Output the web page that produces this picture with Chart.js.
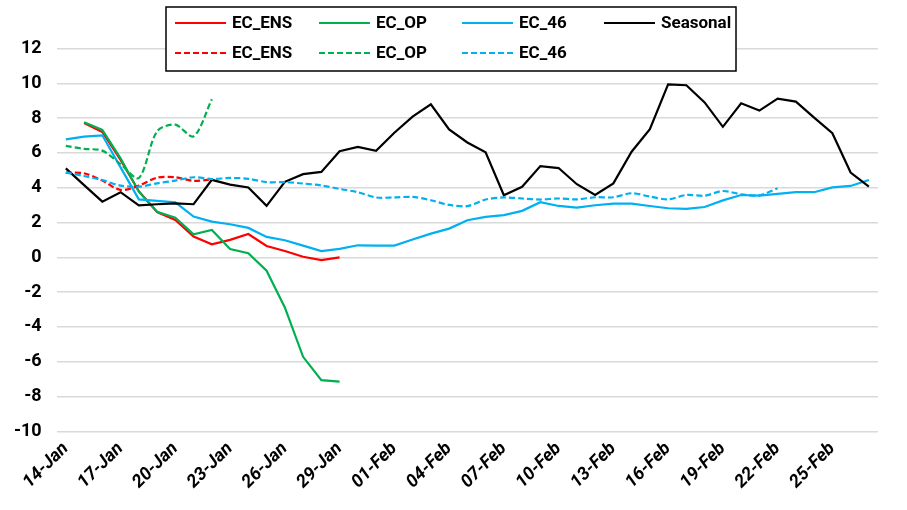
<!DOCTYPE html>
<html>
<head>
<meta charset="utf-8">
<title>EC forecasts vs seasonal</title>
<script src="https://cdn.jsdelivr.net/npm/chart.js@4.4.1/dist/chart.umd.min.js"></script>
<style>
  html, body { margin: 0; padding: 0; background: #fff; }
  #chart { display: block; }
</style>
</head>
<body>
<canvas id="chart" width="907" height="510"></canvas>
<script>
// categories: one per day, 14-Jan .. 27-Feb
const dayLabels = [
  "14-Jan", "15-Jan", "16-Jan", "17-Jan", "18-Jan", "19-Jan", "20-Jan", "21-Jan", "22-Jan",
  "23-Jan", "24-Jan", "25-Jan", "26-Jan", "27-Jan", "28-Jan", "29-Jan", "30-Jan", "31-Jan",
  "01-Feb", "02-Feb", "03-Feb", "04-Feb", "05-Feb", "06-Feb", "07-Feb", "08-Feb", "09-Feb",
  "10-Feb", "11-Feb", "12-Feb", "13-Feb", "14-Feb", "15-Feb", "16-Feb", "17-Feb", "18-Feb",
  "19-Feb", "20-Feb", "21-Feb", "22-Feb", "23-Feb", "24-Feb", "25-Feb", "26-Feb", "27-Feb"
];
// labels shown on the x axis
const tickLabels = [
  "14-Jan", "17-Jan", "20-Jan", "23-Jan", "26-Jan", "29-Jan", "01-Feb", "04-Feb",
  "07-Feb", "10-Feb", "13-Feb", "16-Feb", "19-Feb", "22-Feb", "25-Feb"
];
const yTicks = [-10, -8, -6, -4, -2, 0, 2, 4, 6, 8, 10, 12];

// solid lines
const ecEns = [null, 7.72, 7.2, 5.6, 3.8, 2.6, 2.15, 1.19, 0.75, 1.0, 1.34, 0.65, 0.36, 0.03, -0.16, 0.0];
const ecOp = [null, 7.76, 7.32, 5.69, 3.77, 2.62, 2.28, 1.32, 1.57, 0.48, 0.23, -0.77, -2.88, -5.72, -7.06, -7.14];
const ec46 = [
  6.78, 6.93, 7.01, 5.17, 3.33, 3.24, 3.16, 2.34, 2.05, 1.9, 1.69, 1.17, 0.98, 0.67, 0.36,
  0.48, 0.69, 0.67, 0.67, 1.02, 1.36, 1.65, 2.13, 2.32, 2.42, 2.67, 3.17, 2.95, 2.85, 2.99,
  3.08, 3.08, 2.95, 2.82, 2.78, 2.89, 3.27, 3.58, 3.54, 3.64, 3.74, 3.74, 4.02, 4.1, 4.44
];
const seasonal = [
  5.11, 4.15, 3.2, 3.74, 2.98, 3.05, 3.1, 3.05, 4.45, 4.18, 4.01, 2.96, 4.34, 4.78, 4.91,
  6.1, 6.35, 6.12, 7.16, 8.08, 8.79, 7.35, 6.6, 6.03, 3.57, 4.05, 5.24, 5.13, 4.2, 3.58,
  4.25, 6.07, 7.36, 9.94, 9.89, 8.9, 7.5, 8.85, 8.43, 9.12, 8.95, 8.03, 7.13, 4.87, 4.06
];
// dashed lines (previous run)
const ecEnsPrev = [4.87, 4.83, 4.41, 3.87, 4.12, 4.58, 4.6, 4.39, 4.48];
const ecOpPrev = [6.4, 6.23, 6.13, 5.35, 4.56, 7.24, 7.62, 6.95, 9.08];
const ec46Prev = [
  4.87, 4.67, 4.44, 4.12, 4.06, 4.25, 4.41, 4.6, 4.5, 4.56, 4.51, 4.32, 4.32, 4.24, 4.13,
  3.93, 3.74, 3.44, 3.44, 3.47, 3.28, 3.01, 2.94, 3.32, 3.44, 3.38, 3.32, 3.38, 3.33, 3.45,
  3.45, 3.68, 3.49, 3.33, 3.58, 3.54, 3.81, 3.62, 3.56, 3.97
];

const RED = "#FF0000", GREEN = "#00B050", BLUE = "#00B0F0", BLACK = "#000000";
const FONT = "Roboto";

const series = [
  { label: "EC_ENS", data: ecEns, color: RED, dash: [] },
  { label: "EC_OP", data: ecOp, color: GREEN, dash: [] },
  { label: "EC_46", data: ec46, color: BLUE, dash: [] },
  { label: "Seasonal", data: seasonal, color: BLACK, dash: [] },
  { label: "EC_ENS", data: ecEnsPrev, color: RED, dash: [6, 3] },
  { label: "EC_OP", data: ecOpPrev, color: GREEN, dash: [6, 3] },
  { label: "EC_46", data: ec46Prev, color: BLUE, dash: [6, 3] }
];

const datasets = series.map((s, i) => ({
  label: s.label,
  data: s.data,
  borderColor: s.color,
  backgroundColor: s.color,
  borderDash: s.dash,
  borderWidth: 2.2,
  tension: s.dash.length ? 0.3 : 0,
  pointRadius: 0,
  spanGaps: false,
  order: series.length - i // later series on top, like Excel
}));

// boxed legend, 4 columns x 2 rows
const boxLegend = {
  id: "boxLegend",
  afterDraw(chart) {
    const ctx = chart.ctx;
    const colX = [175, 319, 462, 604];
    const rowY = [23, 53];
    ctx.save();
    ctx.fillStyle = "#fff";
    ctx.fillRect(166, 7, 570, 64);
    ctx.strokeStyle = "#000";
    ctx.lineWidth = 1.5;
    ctx.strokeRect(166, 7, 570, 64);
    chart.data.datasets.forEach((ds, i) => {
      const row = i < 4 ? 0 : 1;
      const col = i < 4 ? i : i - 4;
      const x = colX[col], y = rowY[row];
      ctx.beginPath();
      ctx.setLineDash(ds.borderDash);
      ctx.strokeStyle = ds.borderColor;
      ctx.lineWidth = 2.2;
      ctx.moveTo(x, y);
      ctx.lineTo(x + 51, y);
      ctx.stroke();
      ctx.setLineDash([]);
      ctx.fillStyle = "#000";
      ctx.font = "bold 17px " + FONT;
      ctx.textBaseline = "middle";
      ctx.textAlign = "left";
      ctx.fillText(ds.label, x + 57, y + 1);
    });
    ctx.restore();
  }
};

new Chart(document.getElementById("chart"), {
  type: "line",
  data: { labels: dayLabels, datasets },
  plugins: [boxLegend],
  options: {
    responsive: false,
    animation: false,
    layout: { padding: { top: 48.5, right: 29, left: 0, bottom: 0 } },
    plugins: { legend: { display: false }, tooltip: { enabled: false } },
    scales: {
      x: {
        type: "category",
        offset: true,
        grid: { display: false, drawTicks: false },
        border: { display: false },
        ticks: {
          autoSkip: false,
          minRotation: 45,
          maxRotation: 45,
          padding: 7,
          color: "#000",
          font: { family: FONT, size: 18, weight: "bold", style: "italic" },
          callback: (v, i) => (tickLabels.includes(dayLabels[i]) ? dayLabels[i] : "")
        },
        afterFit: (s) => { s.height = 510 - 431.3; }
      },
      y: {
        min: yTicks[0],
        max: yTicks[yTicks.length - 1],
        afterBuildTicks: (s) => { s.ticks = yTicks.map((v) => ({ value: v })); },
        grid: { color: "#D9D9D9", lineWidth: 1.5, drawTicks: false },
        border: { display: false },
        ticks: {
          padding: 15,
          color: "#000",
          font: { family: FONT, size: 18, weight: "bold" }
        },
        afterFit: (s) => { s.width = 56.7; }
      }
    }
  }
});
</script>
</body>
</html>
